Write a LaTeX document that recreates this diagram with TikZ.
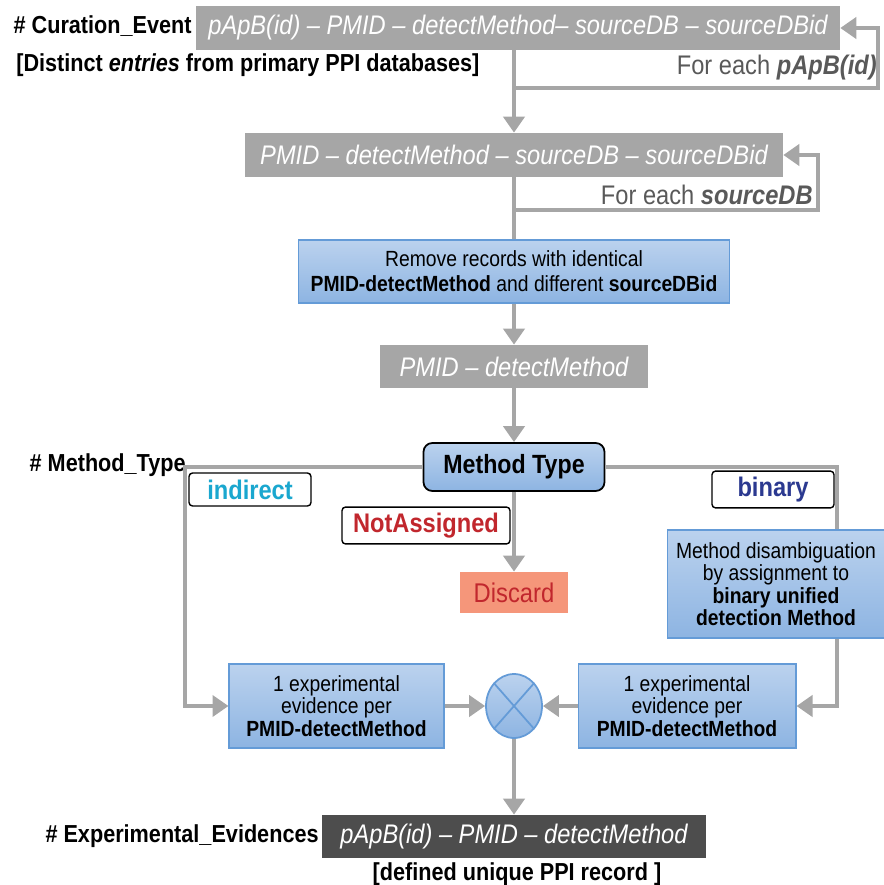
\documentclass[tikz,border=0pt]{standalone}
\usepackage{fontspec}
\setmainfont{Liberation Sans}[FakeStretch=0.88]
\usepackage{xcolor}
\usetikzlibrary{positioning, shapes}
\usetikzlibrary{arrows.meta}

\definecolor{boxgray}{RGB}{166,166,166}
\definecolor{txtgray}{RGB}{89,89,89}
\definecolor{blutop}{RGB}{187,210,238}
\definecolor{blubot}{RGB}{141,180,226}
\definecolor{bluedge}{RGB}{100,155,215}
\definecolor{salmon}{RGB}{245,150,122}
\definecolor{redtxt}{RGB}{193,39,45}
\definecolor{cyantxt}{RGB}{26,167,207}
\definecolor{navytxt}{RGB}{43,57,144}
\definecolor{darkbox}{RGB}{77,77,77}

\begin{document}
\begin{tikzpicture}[x=0.02cm, y=-0.02cm]
            \tikzset{gbox/.style = {fill=boxgray, text=white, font=\fontsize{15.3}{18}\selectfont\itshape, inner sep=0pt}}
            \tikzset{bbox/.style = {draw=bluedge, line width=0.6pt, top color=blutop, bottom color=blubot, align=center, font=\fontsize{12.5}{14.2}\selectfont, inner sep=0pt}}
            \tikzset{pipe/.style = {draw=boxgray, line width=2.3pt}}
            \tikzset{flow/.style = {pipe, -{Triangle[length=0.32cm, width=0.42cm]}}}
            \tikzset{tag/.style = {draw, rounded corners=2pt, fill=white, line width=0.8pt, font=\fontsize{15.3}{18}\selectfont\bfseries, minimum width=2.44cm, minimum height=0.66cm}}
            \tikzset{lbl/.style = {font=\fontsize{14}{16}\selectfont\bfseries, inner sep=0pt}}
            \tikzset{loopnote/.style = {text=txtgray, font=\fontsize{15.3}{18}\selectfont, anchor=east, inner sep=0pt}}

            \useasboundingbox (0,0) rectangle (883,885);

            \node[gbox, minimum width=12.88cm, minimum height=0.88cm] (curev) at (518,28) {pApB(id) – PMID – detectMethod– sourceDB – sourceDBid};
            \node[lbl, anchor=east] (curlbl) at (192,26) {\# Curation\_Event};
            \node[lbl, anchor=west] (curnote) at (16,65) {[Distinct \textit{entries} from primary PPI databases]};
            \node[loopnote] (foreach1) at (877,68) {For each \textbf{\textit{pApB(id)}}};

            \node[gbox, minimum width=10.76cm, minimum height=0.88cm] (pmidsrc) at (514,155) {PMID – detectMethod – sourceDB – sourceDBid};
            \node[loopnote] (foreach2) at (813,195) {For each \textbf{\textit{sourceDB}}};

            \node[bbox, minimum width=8.64cm, minimum height=1.26cm] (remove) at (514,271.5) {Remove records with identical\\\textbf{PMID-detectMethod} and different \textbf{sourceDBid}};
            \node[gbox, minimum width=5.38cm, minimum height=0.86cm] (pmid) at (514,366.5) {PMID – detectMethod};

            \node[bbox, draw=black, line width=1pt, rounded corners=5pt, minimum width=3.62cm, minimum height=0.96cm, font=\fontsize{15}{18}\selectfont\bfseries] (mtype) at (514,467) {Method Type};
            \node[lbl, anchor=east] (mtlbl) at (186,465) {\# Method\_Type};

            \node[tag, text=cyantxt] (indirect) at (250,489.5) {indirect};
            \node[tag, text=navytxt] (binary) at (773,489.5) {binary};
            \node[tag, text=redtxt, minimum width=3.36cm, minimum height=0.7cm] (notass) at (426,525.5) {NotAssigned};
            \node[fill=salmon, text=redtxt, font=\fontsize{15.4}{18}\selectfont, minimum width=2.18cm, minimum height=0.82cm] (discard) at (514,592.5) {Discard};
            \node[bbox, minimum width=4.34cm, minimum height=2.16cm, font=\fontsize{12.5}{12.7}\selectfont] (disamb) at (776,584) {Method disambiguation\\by assignment to\\\textbf{binary unified}\\\textbf{detection Method}};

            \node[bbox, minimum width=4.3cm, minimum height=1.68cm, font=\fontsize{12.5}{12.8}\selectfont] (evl) at (336.5,706) {1 experimental\\evidence per\\\textbf{PMID-detectMethod}};
            \node[bbox, minimum width=4.36cm, minimum height=1.68cm, font=\fontsize{12.5}{12.8}\selectfont] (evr) at (687,706) {1 experimental\\evidence per\\\textbf{PMID-detectMethod}};
            \node[ellipse, draw=bluedge, line width=1pt, top color=blutop, bottom color=blubot, minimum width=1.12cm, minimum height=1.28cm, inner sep=0pt] (merge) at (514,706) {};
            \draw[bluedge, line width=1pt] (merge.north west) -- (merge.south east) (merge.north east) -- (merge.south west);

            \node[fill=darkbox, text=white, font=\fontsize{15.3}{18}\selectfont\itshape, minimum width=7.7cm, minimum height=0.86cm, inner sep=0pt] (evid) at (514,836.5) {pApB(id) – PMID – detectMethod};
            \node[lbl, anchor=east] (evlbl) at (319,836) {\# Experimental\_Evidences};
            \node[lbl] (evnote) at (517,874) {[defined unique PPI record ]};

            % arrows
            \coordinate (loop1) at (878,88);
            \coordinate (loop2) at (818,210);
            \coordinate (lturn) at (185,467);
            \coordinate (rturn) at (837,467);

            \draw[flow] (curev.south -| pmidsrc.north) -- (pmidsrc.north);
            \draw[flow] (pmidsrc.north |- loop1) -- (loop1) |- (curev.east);
            \draw[flow] (pmidsrc.south |- loop2) -- (loop2) |- (pmidsrc.east);
            \draw[pipe] (pmidsrc) -- (remove);
            \draw[flow] (remove) -- (pmid);
            \draw[flow] (pmid) -- (mtype);
            \draw[flow] (mtype) -- (discard);

            \draw[flow] (mtype.west) -- (lturn) |- (evl.west);
            \draw[pipe] (mtype.east) -- (rturn) -- (rturn |- disamb.north);
            \draw[flow] (rturn |- disamb.south) |- (evr.east);
            \draw[flow] (evl) -- (merge);
            \draw[flow] (evr) -- (merge);
            \draw[flow] (merge) -- (evid);

        \end{tikzpicture}
\end{document}
